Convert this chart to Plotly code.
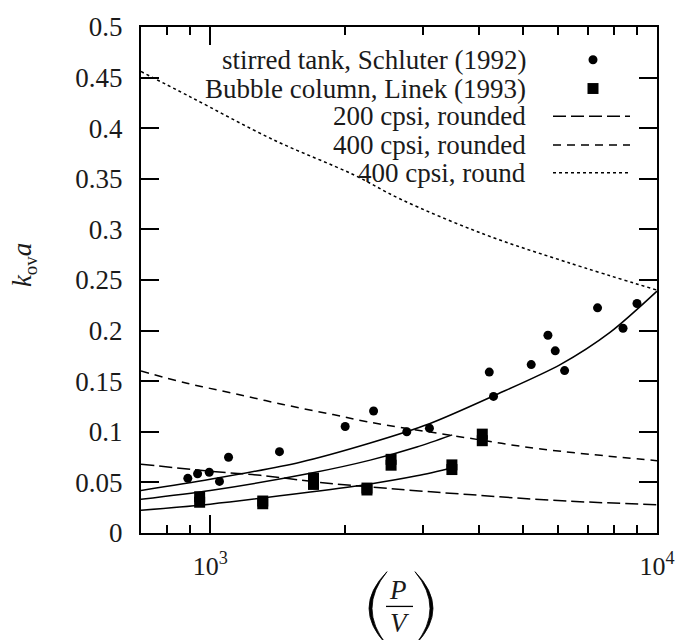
import math
import plotly.graph_objects as go

# ---------------- data ----------------
schluter_x = [891, 937, 995, 1049, 1099, 1429, 2005, 2321, 2754, 3095,
              4213, 4306, 5230, 5700, 5919, 6211, 7361, 8394, 9020]
schluter_y = [0.054, 0.0585, 0.060, 0.051, 0.0748, 0.0804, 0.1052, 0.1206, 0.100, 0.1036,
              0.159, 0.135, 0.1664, 0.1954, 0.180, 0.1605, 0.2225, 0.2023, 0.2268]

linek_x = [947, 947, 1311, 1311, 1703, 1703, 2243, 2243, 2540, 2540, 3475, 3475, 4064, 4064]
linek_y = [0.0358, 0.0304, 0.0316, 0.0289, 0.0542, 0.0480, 0.0444, 0.0425,
           0.0728, 0.0670, 0.0673, 0.0627, 0.0977, 0.0912]

fit_upper_x = [700, 1000, 1590, 2281, 3095, 4306, 6073, 7862, 10000]
fit_upper_y = [0.042, 0.053, 0.070, 0.089, 0.108, 0.1355, 0.1664, 0.1985, 0.239]
fit_mid_x = [700, 1000, 1675, 2281, 2900, 3480]
fit_mid_y = [0.0333, 0.042, 0.059, 0.072, 0.085, 0.097]
fit_low_x = [700, 1000, 1675, 2281, 2900, 3530]
fit_low_y = [0.0225, 0.0285, 0.0405, 0.0485, 0.0565, 0.065]

cpsi200_rounded_x = [700, 1000, 1295, 1763, 2500, 3784, 6000, 10000]
cpsi200_rounded_y = [0.068, 0.061, 0.057, 0.050, 0.044, 0.038, 0.032, 0.028]
cpsi400_rounded_x = [700, 887, 1126, 1456, 1883, 2244, 3758, 5500, 10000]
cpsi400_rounded_y = [0.160, 0.148, 0.138, 0.127, 0.117, 0.110, 0.094, 0.083, 0.0715]
cpsi400_round_x = [700, 902, 1386, 2094, 2663, 4091, 6287, 10000]
cpsi400_round_y = [0.456, 0.431, 0.3885, 0.354, 0.330, 0.2954, 0.2676, 0.240]

legend_labels = ["stirred tank, Schluter (1992)", "Bubble column, Linek (1993)",
                 "200 cpsi, rounded", "400 cpsi, rounded", "400 cpsi, round"]

x_ticks = [1000, 10000]
x_ticktext = ["10<sup>3</sup>", "10<sup>4</sup>"]
x_minor = [800, 900, 2000, 3000, 4000, 5000, 6000, 7000, 8000, 9000]

FONT = "'Liberation Serif', 'Times New Roman', serif"
BLACK = "black"
TXT = "#1a1a1a"

# ---------------- geometry helpers (pixel -> paper) ----------------
W, H = 693, 640
ML, MR, MT, MB = 141, 36, 23, 107
PL, PR, PT, PB = ML, W - MR, MT, H - MB


def fx(px):
    return (px - PL) / (PR - PL)


def fy(py):
    return (PB - py) / (PB - PT)


fig = go.Figure()

line_w = 1.5
fig.add_trace(go.Scatter(x=cpsi400_round_x, y=cpsi400_round_y, mode="lines",
                         line=dict(color=BLACK, width=line_w, dash="3px,3px", shape="spline"),
                         showlegend=False, hoverinfo="skip"))
fig.add_trace(go.Scatter(x=cpsi400_rounded_x, y=cpsi400_rounded_y, mode="lines",
                         line=dict(color=BLACK, width=line_w, dash="8px,6px", shape="spline"),
                         showlegend=False, hoverinfo="skip"))
fig.add_trace(go.Scatter(x=cpsi200_rounded_x, y=cpsi200_rounded_y, mode="lines",
                         line=dict(color=BLACK, width=line_w, dash="13px,5px", shape="spline"),
                         showlegend=False, hoverinfo="skip"))
for fxs, fys in [(fit_upper_x, fit_upper_y), (fit_mid_x, fit_mid_y), (fit_low_x, fit_low_y)]:
    fig.add_trace(go.Scatter(x=fxs, y=fys, mode="lines",
                             line=dict(color=BLACK, width=line_w, shape="spline", smoothing=0.8),
                             showlegend=False, hoverinfo="skip"))

fig.add_trace(go.Scatter(x=schluter_x, y=schluter_y, mode="markers",
                         marker=dict(symbol="circle", size=9, color=BLACK),
                         showlegend=False, hoverinfo="skip"))
fig.add_trace(go.Scatter(x=linek_x, y=linek_y, mode="markers",
                         marker=dict(symbol="square", size=11, color=BLACK),
                         showlegend=False, hoverinfo="skip"))

# ---------------- manual legend (text right-aligned, key on the right) ----------------
rows = [56, 85, 113, 142, 170]
annotations = []
shapes = []
for lab, ry in zip(legend_labels, rows):
    annotations.append(dict(text=lab, x=fx(528), y=fy(ry), xref="paper", yref="paper",
                            xanchor="right", yanchor="middle", showarrow=False,
                            font=dict(family=FONT, size=27, color=TXT)))
cx, r = 593, 4.5
shapes.append(dict(type="circle", xref="paper", yref="paper",
                   x0=fx(cx - r), x1=fx(cx + r), y0=fy(rows[0] + r), y1=fy(rows[0] - r),
                   fillcolor=BLACK, line=dict(width=0)))
s = 5.5
shapes.append(dict(type="rect", xref="paper", yref="paper",
                   x0=fx(cx - s), x1=fx(cx + s), y0=fy(rows[1] + s), y1=fy(rows[1] - s),
                   fillcolor=BLACK, line=dict(width=0)))
for ry, dash in zip(rows[2:], ["13px,5px", "8px,6px", "3px,3px"]):
    shapes.append(dict(type="line", xref="paper", yref="paper",
                       x0=fx(553), x1=fx(630), y0=fy(ry), y1=fy(ry),
                       line=dict(color=BLACK, width=line_w, dash=dash)))

# ---------------- axis titles ----------------
annotations.append(dict(text="<i>k</i><sub>ov</sub><i>a</i>", x=fx(24), y=fy(263),
                        xref="paper", yref="paper", textangle=-90, showarrow=False,
                        xanchor="center", yanchor="middle",
                        font=dict(family=FONT, size=27, color=TXT)))
annotations.append(dict(text="<i>P</i>", x=fx(398), y=fy(590), xref="paper", yref="paper",
                        showarrow=False, xanchor="center", yanchor="middle",
                        font=dict(family=FONT, size=27, color=TXT)))
annotations.append(dict(text="<i>V</i>", x=fx(400), y=fy(624), xref="paper", yref="paper",
                        showarrow=False, xanchor="center", yanchor="middle",
                        font=dict(family=FONT, size=27, color=TXT)))
shapes.append(dict(type="line", xref="paper", yref="paper",
                   x0=fx(386), x1=fx(413), y0=fy(607), y1=fy(607),
                   line=dict(color=BLACK, width=1.3)))


def paren(xe, xo, xi, ytop, ybot):
    ym = (ytop + ybot) / 2
    return (f"M {fx(xe)},{fy(ytop)} Q {fx(xo)},{fy(ym)} {fx(xe)},{fy(ybot)} "
            f"Q {fx(xi)},{fy(ym)} {fx(xe)},{fy(ytop)} Z")


shapes.append(dict(type="path", xref="paper", yref="paper", path=paren(387, 351, 357, 572, 646),
                   fillcolor=BLACK, line=dict(color=BLACK, width=0.8)))
shapes.append(dict(type="path", xref="paper", yref="paper", path=paren(415, 451, 445, 572, 646),
                   fillcolor=BLACK, line=dict(color=BLACK, width=0.8)))

fig.update_layout(
    width=W, height=H,
    margin=dict(l=ML, r=MR, t=MT, b=MB),
    paper_bgcolor="white", plot_bgcolor="white",
    font=dict(family=FONT, color=TXT),
    showlegend=False,
    annotations=annotations,
    shapes=shapes,
    xaxis=dict(type="log", range=[math.log10(700), 4],
               tickvals=x_ticks, ticktext=x_ticktext,
               ticks="inside", ticklen=18, tickwidth=1.5, tickcolor=BLACK,
               minor=dict(tickvals=x_minor, ticks="inside", ticklen=8, tickwidth=1.5,
                          tickcolor=BLACK, showgrid=False),
               showline=True, linecolor=BLACK, linewidth=2, mirror="ticks",
               showgrid=False, zeroline=False,
               tickfont=dict(family=FONT, size=26, color=TXT),
               ticklabelstandoff=9),
    yaxis=dict(range=[0, 0.5], tick0=0, dtick=0.05,
               ticks="inside", ticklen=18, tickwidth=1.5, tickcolor=BLACK,
               showline=True, linecolor=BLACK, linewidth=2, mirror="ticks",
               showgrid=False, zeroline=False,
               tickfont=dict(family=FONT, size=27, color=TXT),
               ticklabelstandoff=11),
)

fig.write_html("out.html", config={"displayModeBar": False})
